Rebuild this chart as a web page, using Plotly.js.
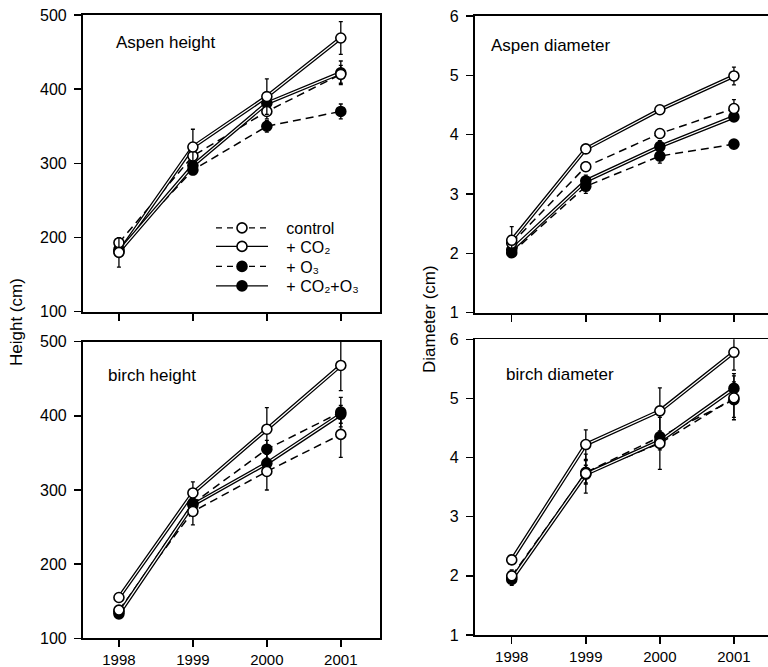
<!DOCTYPE html>
<html>
<head>
<meta charset="utf-8">
<script src="https://cdn.plot.ly/plotly-3.0.1.min.js"></script>
<style>html,body{margin:0;padding:0;background:#fff;}#chart{width:768px;height:667px;}</style>
</head>
<body>
<div id="chart"></div>
<script>
// ---------- data ----------
const years = [1998, 1999, 2000, 2001];
const seriesNames = ['control', '+ CO\u2082', '+ O\u2083', '+ CO\u2082+O\u2083'];
const panelLabels = ['Aspen height', 'Aspen diameter', 'birch height', 'birch diameter'];

// Aspen height (cm)
const aspenHeightControl = [193, 310, 370, 420];
const aspenHeightCO2     = [180, 322, 390, 469];
const aspenHeightO3      = [184, 291, 350, 370];
const aspenHeightCO2O3   = [181, 297, 381, 422];
const aspenHeightControlErr = [5, 8, 10, 12];
const aspenHeightCO2Err     = [20, 24, 24, 22];
const aspenHeightO3Err      = [5, 6, 8, 10];
const aspenHeightCO2O3Err   = [5, 8, 10, 16];

// Aspen diameter (cm)
const aspenDiamControl = [2.17, 3.46, 4.02, 4.44];
const aspenDiamCO2     = [2.22, 3.76, 4.42, 4.99];
const aspenDiamO3      = [2.01, 3.13, 3.64, 3.84];
const aspenDiamCO2O3   = [2.06, 3.22, 3.80, 4.30];
const aspenDiamControlErr = [0.08, 0.08, 0.07, 0.15];
const aspenDiamCO2Err     = [0.23, 0.04, 0.04, 0.15];
const aspenDiamO3Err      = [0.05, 0.12, 0.12, 0.04];
const aspenDiamCO2O3Err   = [0.05, 0.10, 0.10, 0.04];

// birch height (cm)
const birchHeightControl = [138, 271, 325, 375];
const birchHeightCO2     = [155, 296, 382, 468];
const birchHeightO3      = [136, 282, 355, 405];
const birchHeightCO2O3   = [133, 280, 336, 402];
const birchHeightControlErr = [5, 18, 25, 31];
const birchHeightCO2Err     = [5, 15, 29, 34];
const birchHeightO3Err      = [5, 10, 12, 20];
const birchHeightCO2O3Err   = [5, 10, 12, 12];

// birch diameter (cm)
const birchDiamControl = [2.00, 3.73, 4.24, 5.01];
const birchDiamCO2     = [2.27, 4.22, 4.79, 5.78];
const birchDiamO3      = [1.97, 3.75, 4.35, 4.98];
const birchDiamCO2O3   = [1.94, 3.72, 4.28, 5.17];
const birchDiamControlErr = [0.10, 0.33, 0.44, 0.37];
const birchDiamCO2Err     = [0.05, 0.25, 0.39, 0.30];
const birchDiamO3Err      = [0.10, 0.20, 0.10, 0.30];
const birchDiamCO2O3Err   = [0.10, 0.15, 0.15, 0.25];

// ---------- styles ----------
const seriesDashed = [true, false, true, false];
const seriesFilled = [false, false, true, true];
const markerOrder = [3, 2, 0, 1]; // filled drawn first, open on top
const legendIds = ['legend', 'legend2', 'legend3', 'legend4'];
const legendRowY = [228, 246.5, 266.5, 286];

const panels = [
  {xa: 'x',  ya: 'y',  vals: [aspenHeightControl, aspenHeightCO2, aspenHeightO3, aspenHeightCO2O3],
   errs: [aspenHeightControlErr, aspenHeightCO2Err, aspenHeightO3Err, aspenHeightCO2O3Err]},
  {xa: 'x2', ya: 'y2', vals: [aspenDiamControl, aspenDiamCO2, aspenDiamO3, aspenDiamCO2O3],
   errs: [aspenDiamControlErr, aspenDiamCO2Err, aspenDiamO3Err, aspenDiamCO2O3Err]},
  {xa: 'x3', ya: 'y3', vals: [birchHeightControl, birchHeightCO2, birchHeightO3, birchHeightCO2O3],
   errs: [birchHeightControlErr, birchHeightCO2Err, birchHeightO3Err, birchHeightCO2O3Err]},
  {xa: 'x4', ya: 'y4', vals: [birchDiamControl, birchDiamCO2, birchDiamO3, birchDiamCO2O3],
   errs: [birchDiamControlErr, birchDiamCO2Err, birchDiamO3Err, birchDiamCO2O3Err]}
];

const FONT = 'Liberation Sans, Arial, Helvetica, sans-serif';
const traces = [];

panels.forEach(p => {
  // lines first
  p.vals.forEach((v, i) => {
    if (seriesDashed[i]) {
      traces.push({x: years, y: v, xaxis: p.xa, yaxis: p.ya, mode: 'lines', showlegend: false,
        hoverinfo: 'skip', line: {color: '#000', width: 1.5, dash: '8px,5px'}});
    } else {
      traces.push({x: years, y: v, xaxis: p.xa, yaxis: p.ya, mode: 'lines', showlegend: false,
        hoverinfo: 'skip', line: {color: '#000', width: 3.8}});
      traces.push({x: years, y: v, xaxis: p.xa, yaxis: p.ya, mode: 'lines', showlegend: false,
        hoverinfo: 'skip', line: {color: '#fff', width: 1.2}});
    }
  });
  // then markers + error bars
  markerOrder.forEach(i => {
    traces.push({x: years, y: p.vals[i], xaxis: p.xa, yaxis: p.ya, mode: 'markers', showlegend: false,
      name: seriesNames[i],
      error_y: {type: 'data', array: p.errs[i], visible: true, color: '#000', thickness: 1.3, width: 2},
      marker: {size: 10, color: seriesFilled[i] ? '#000' : '#fff', line: {color: '#000', width: 1.6}}});
  });
});

// legend entries (one legend per row for exact row spacing)
seriesNames.forEach((n, i) => {
  traces.push({x: [null], y: [null], xaxis: 'x', yaxis: 'y', mode: 'lines+markers',
    name: '\u00a0\u00a0\u00a0' + n, legend: legendIds[i], showlegend: true,
    line: {color: '#000', width: 1.4, dash: seriesDashed[i] ? '6px,5px' : 'solid'},
    marker: {size: 10, color: seriesFilled[i] ? '#000' : '#fff', line: {color: '#000', width: 1.6}}});
});

const W = 768, H = 667;
const px = v => v / W;
const py = v => 1 - v / H;

function xaxis(domain, range, anchor, showLabels) {
  return {domain: domain, range: range, anchor: anchor, tickvals: years,
    ticktext: years.map(String), showticklabels: showLabels,
    ticks: 'outside', ticklen: 7, tickwidth: 1.5, tickcolor: '#000',
    showline: true, linecolor: '#000', linewidth: 1.8, mirror: true,
    showgrid: false, zeroline: false, fixedrange: true,
    tickfont: {family: FONT, size: 15, color: '#000'}};
}
function yaxis(domain, range, dtick, anchor, mirror) {
  return {domain: domain, range: range, anchor: anchor, dtick: dtick, tick0: 0,
    ticks: 'outside', ticklen: 7, tickwidth: 1.5, tickcolor: '#000',
    showline: true, linecolor: '#000', linewidth: 1.8, mirror: mirror,
    showgrid: false, zeroline: false, fixedrange: true, ticklabelstandoff: 4,
    tickfont: {family: FONT, size: 16, color: '#000'}};
}
function legendAt(rowY) {
  return {x: px(211), y: py(rowY), xanchor: 'left', yanchor: 'middle',
    bgcolor: 'rgba(0,0,0,0)', borderwidth: 0, itemwidth: 52,
    font: {family: FONT, size: 16, color: '#000'}};
}

const leftX = [px(82.7), px(380)];
const rightX = [px(474.7), 1];
const leftRange = [1997.51, 2001.53];
const rightRange = [1997.5, 2001.46];

const layout = {
  width: W, height: H,
  margin: {l: 0, r: 0, t: 0, b: 0},
  paper_bgcolor: '#fff', plot_bgcolor: '#fff',
  font: {family: FONT, size: 16, color: '#000'},
  showlegend: true,
  legend: legendAt(legendRowY[0]),
  legend2: legendAt(legendRowY[1]),
  legend3: legendAt(legendRowY[2]),
  legend4: legendAt(legendRowY[3]),
  xaxis:  xaxis(leftX,  leftRange,  'y',  false),
  yaxis:  yaxis([py(311.7), py(15)], [100, 500], 100, 'x', true),
  xaxis2: xaxis(rightX, rightRange, 'y2', false),
  yaxis2: yaxis([py(312.7), py(16)], [1, 6], 1, 'x2', false),
  xaxis3: xaxis(leftX,  leftRange,  'y3', true),
  yaxis3: yaxis([py(638.3), py(341.7)], [100, 500], 100, 'x3', true),
  xaxis4: xaxis(rightX, rightRange, 'y4', true),
  yaxis4: yaxis([py(635), py(339.3)], [1, 6], 1, 'x4', false),
  annotations: [
    {text: panelLabels[0], xref: 'paper', yref: 'paper', x: px(114), y: py(43), xanchor: 'left', yanchor: 'middle', showarrow: false, font: {family: FONT, size: 17}},
    {text: panelLabels[1], xref: 'paper', yref: 'paper', x: px(489), y: py(45), xanchor: 'left', yanchor: 'middle', showarrow: false, font: {family: FONT, size: 17}},
    {text: panelLabels[2], xref: 'paper', yref: 'paper', x: px(106), y: py(375), xanchor: 'left', yanchor: 'middle', showarrow: false, font: {family: FONT, size: 17}},
    {text: panelLabels[3], xref: 'paper', yref: 'paper', x: px(504), y: py(374), xanchor: 'left', yanchor: 'middle', showarrow: false, font: {family: FONT, size: 17}},
    {text: 'Height (cm)', xref: 'paper', yref: 'paper', x: px(16), y: py(322), xanchor: 'center', yanchor: 'middle', textangle: -90, showarrow: false, font: {family: FONT, size: 17}},
    {text: 'Diameter (cm)', xref: 'paper', yref: 'paper', x: px(429), y: py(319), xanchor: 'center', yanchor: 'middle', textangle: -90, showarrow: false, font: {family: FONT, size: 17}}
  ]
};

Plotly.newPlot('chart', traces, layout, {displayModeBar: false, staticPlot: true});
</script>
</body>
</html>
